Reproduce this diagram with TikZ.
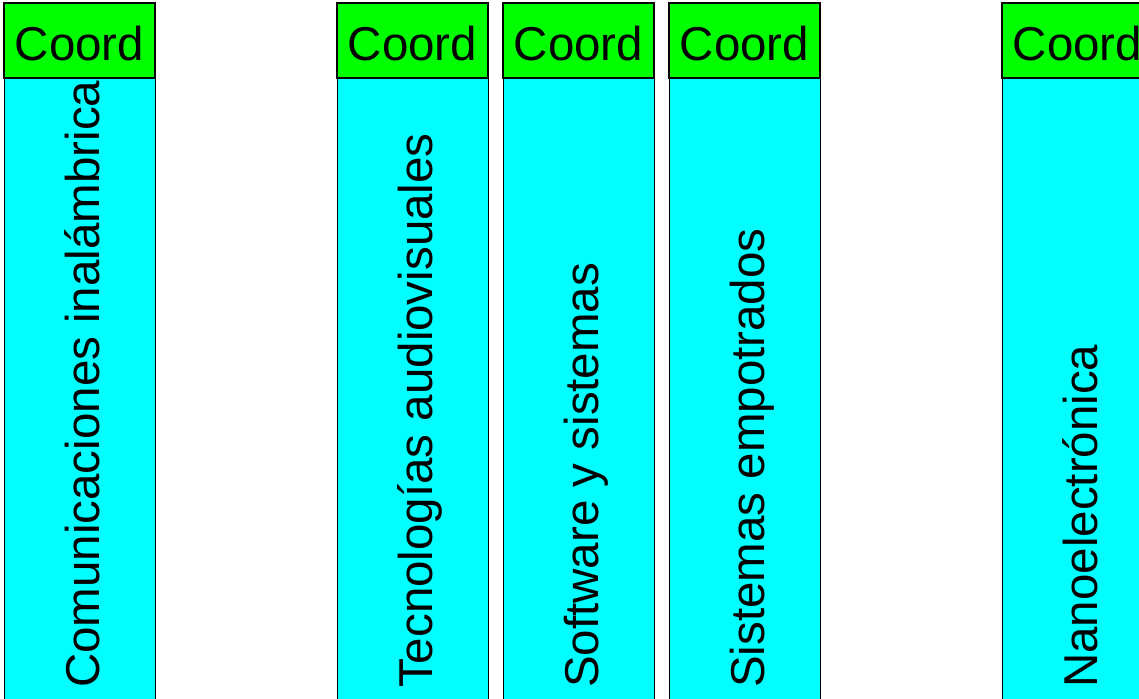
\documentclass[tikz,border=0pt]{standalone}
\usepackage{fontspec}
\setmainfont{Liberation Sans}
\usetikzlibrary{positioning}
\tikzset{>=latex}
\definecolor{aqua}{RGB}{0,255,255}
\definecolor{lime}{RGB}{0,255,0}
\tikzstyle{coord} = [draw=black, fill=lime, line width=1.5, outer sep=0, inner sep=0, minimum width=151pt, minimum height=75pt, text height=40pt, text depth=0pt, font=\fontsize{47.5}{57}\selectfont]
\tikzstyle{area} = [draw=black, fill=aqua, line width=1, outer sep=0, inner sep=0, minimum width=151pt, minimum height=640pt]
\tikzstyle{theme} = [rotate=90, anchor=base west, inner sep=0, font=\fontsize{47.5}{57}\selectfont]
\newcommand{\column}[3]{
\node[area] (#1-body) at (#2+75.5, 398) {};
\node[coord, above=0pt of #1-body] (#1-hdr) {Coord};
\node[theme] (#1-lbl) at (#2+95, 688) {#3};
}

\begin{document}
\begin{tikzpicture}[x=1pt, y=-1pt]
		% Frame
		\useasboundingbox (0,0) rectangle (1139,698);
		\clip (0,0) rectangle (1139,698);
		
		% Columns
		\column{com}{4}{Comunicaciones inalámbrica}
		\column{tec}{337}{Tecnologías audiovisuales}
		\column{sw}{503}{Software y sistemas}
		\column{emp}{669}{Sistemas empotrados}
		\column{nano}{1002}{Nanoelectrónica}
	\end{tikzpicture}
\end{document}
